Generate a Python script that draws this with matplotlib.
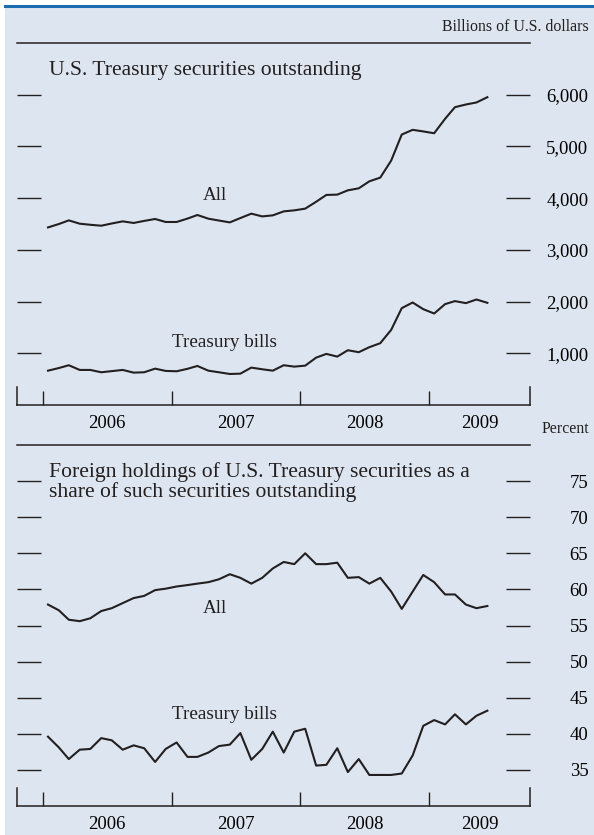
import numpy as np
import pandas as pd
import matplotlib
matplotlib.use("Agg")
import matplotlib.pyplot as plt
from matplotlib.patches import Rectangle
from matplotlib.lines import Line2D

plt.rcParams['font.family'] = ['Liberation Serif', 'DejaVu Serif']

# monthly data, Jan 2006 - Jun 2009
months = pd.date_range("2006-01-01", "2009-06-01", freq="MS") + pd.Timedelta(days=14)

# billions of U.S. dollars
tsy_all = [3434, 3500, 3570, 3506, 3485, 3467, 3510, 3551, 3520, 3560, 3597, 3539,
           3539, 3605, 3674, 3603, 3567, 3531, 3615, 3700, 3647, 3667, 3744, 3764,
           3797, 3930, 4062, 4068, 4151, 4190, 4325, 4397, 4726, 5230, 5321, 5290,
           5255, 5534, 5759, 5811, 5850, 5952]
tsy_bills = [664, 715, 769, 678, 678, 633, 655, 678, 626, 633, 703, 659,
             652, 700, 755, 664, 633, 600, 606, 723, 691, 664, 769, 742,
             761, 916, 988, 936, 1059, 1021, 1118, 1195, 1453, 1873, 1982, 1853,
             1769, 1951, 2009, 1970, 2040, 1976]

# percent held by foreigners
for_all = [57.9, 57.1, 55.8, 55.6, 56.0, 57.0, 57.4, 58.1, 58.8, 59.1, 59.9, 60.1,
           60.4, 60.6, 60.8, 61.0, 61.4, 62.1, 61.6, 60.8, 61.6, 62.9, 63.8, 63.5,
           65.0, 63.5, 63.5, 63.7, 61.6, 61.7, 60.8, 61.6, 59.7, 57.3, 59.7, 62.0,
           61.0, 59.3, 59.3, 57.9, 57.4, 57.7]
for_bills = [39.6, 38.1, 36.5, 37.8, 37.9, 39.4, 39.1, 37.8, 38.4, 38.0, 36.1, 37.9,
             38.8, 36.8, 36.8, 37.4, 38.3, 38.5, 40.1, 36.4, 37.9, 40.3, 37.4, 40.3,
             40.7, 35.6, 35.7, 38.0, 34.7, 36.5, 34.3, 34.3, 34.3, 34.5, 37.0, 41.1,
             41.9, 41.3, 42.7, 41.3, 42.5, 43.2]

years = ["2006", "2007", "2008", "2009"]
xmin = pd.Timestamp("2005-10-19")
xmax = pd.Timestamp("2009-10-14")

bg = "#dde6f0"
ink = "#231f20"
W, H = 594, 835

fig = plt.figure(figsize=(W / 100, H / 100), dpi=100, facecolor="white")
fig.patches.append(Rectangle((5 / W, 0), 1 - 5 / W, 1 - 7 / H, transform=fig.transFigure,
                             facecolor=bg, edgecolor="none", zorder=-10))
fig.lines.append(Line2D([5 / W, 1], [1 - 6 / H, 1 - 6 / H], transform=fig.transFigure,
                        color="#1b6bb0", lw=2.2, zorder=-5))


def setup(ax, ylim, yticks, ylabels):
    ax.set_facecolor("none")
    ax.set_xlim(xmin, xmax)
    ax.set_ylim(*ylim)
    for s in ["left", "right"]:
        ax.spines[s].set_visible(False)
    for s in ["top", "bottom"]:
        ax.spines[s].set_linewidth(1.1)
        ax.spines[s].set_color(ink)
    ax.set_yticks(yticks)
    ax.set_yticklabels(ylabels)
    ax.tick_params(axis="y", which="major", direction="in", length=17, width=1.0,
                   color=ink, left=True, right=True, labelleft=False, labelright=True,
                   labelsize=13.5, pad=42)
    for lab in ax.get_yticklabels():
        lab.set_horizontalalignment("right")
    yr = [pd.Timestamp(y + "-01-01") for y in years]
    ax.set_xticks(yr)
    ax.set_xticklabels([])
    ax.tick_params(axis="x", which="major", direction="in", length=10, width=1.0, color=ink)
    mids = [pd.Timestamp(y + "-07-02") for y in years[:-1]]
    mids.append(yr[-1] + (xmax - yr[-1]) / 2)
    ax.set_xticks(mids, minor=True)
    ax.set_xticklabels(years, minor=True)
    ax.tick_params(axis="x", which="minor", length=0, labelsize=13.5, pad=7)
    for x in [xmin, xmax]:
        ax.axvline(x, ymin=0, ymax=13 / 260, color=ink, lw=1.1, clip_on=False)


# upper panel
ax1 = fig.add_axes([17 / W, 1 - 405 / H, 513 / W, 362 / H])
setup(ax1, (0, 7000), [1000, 2000, 3000, 4000, 5000, 6000],
      ["1,000", "2,000", "3,000", "4,000", "5,000", "6,000"])
ax1.plot(months, tsy_all, color=ink, lw=1.5)
ax1.plot(months, tsy_bills, color=ink, lw=1.5)
ax1.text(0.062, 0.925, "U.S. Treasury securities outstanding", transform=ax1.transAxes,
         fontsize=15.6, va="center", ha="left", color=ink)
ax1.text(pd.Timestamp("2007-05-05"), 4050, "All", fontsize=13.8, ha="center", va="center", color=ink)
ax1.text(pd.Timestamp("2007-05-30"), 1200, "Treasury bills", fontsize=13.8, ha="center",
         va="center", color=ink)
fig.text(589 / W, 1 - 27 / H, "Billions of U.S. dollars", fontsize=11.4, ha="right",
         va="center", color=ink)

# lower panel
ax2 = fig.add_axes([17 / W, 1 - 806 / H, 513 / W, 361 / H])
setup(ax2, (30, 80), [35, 40, 45, 50, 55, 60, 65, 70, 75],
      ["35", "40", "45", "50", "55", "60", "65", "70", "75"])
ax2.plot(months, for_all, color=ink, lw=1.5)
ax2.plot(months, for_bills, color=ink, lw=1.5)
ax2.text(0.062, 0.925, "Foreign holdings of U.S. Treasury securities as a",
         transform=ax2.transAxes, fontsize=15.6, va="center", ha="left", color=ink)
ax2.text(0.062, 0.870, "share of such securities outstanding",
         transform=ax2.transAxes, fontsize=15.6, va="center", ha="left", color=ink)
ax2.text(pd.Timestamp("2007-05-05"), 57.3, "All", fontsize=13.8, ha="center", va="center", color=ink)
ax2.text(pd.Timestamp("2007-05-30"), 42.7, "Treasury bills", fontsize=13.8, ha="center",
         va="center", color=ink)
fig.text(589 / W, 1 - 429 / H, "Percent", fontsize=11.4, ha="right", va="center", color=ink)

fig.savefig("out.png", dpi=100, facecolor=fig.get_facecolor())
